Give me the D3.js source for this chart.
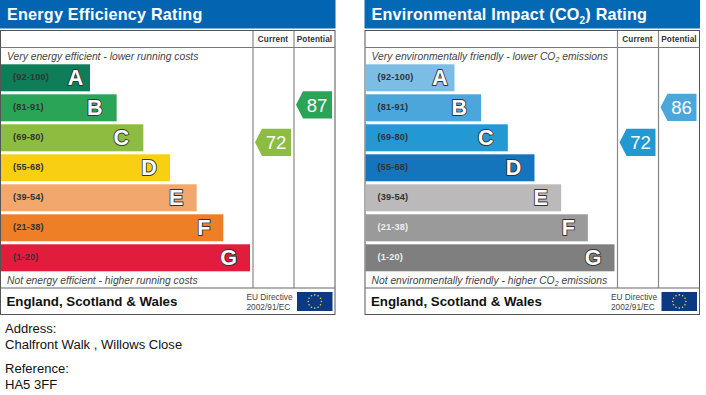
<!DOCTYPE html>
<html><head><meta charset="utf-8">
<style>html,body{margin:0;padding:0;background:#fff}svg{display:block}text{font-family:"Liberation Sans",Arial,sans-serif}</style>
<script src="https://cdn.jsdelivr.net/npm/d3@7"></script></head><body>
<svg id="c" width="706" height="395"></svg>
<script>
const bands = ["A","B","C","D","E","F","G"];
const ranges = ["(92-100)","(81-91)","(69-80)","(55-68)","(39-54)","(21-38)","(1-20)"];
const barSteps = [1,2,3,4,5,6,7];
const energyColors = ["#0f7d58","#2aa457","#8cbd40","#f9cf14","#f2a86c","#ee7f27","#e21c3c"];
const co2Colors = ["#7cbde6","#4aa6db","#2399d3","#1575bc","#bbb9b9","#9b9a9a","#7f7f7f"];
const energyRatings = {current:72, potential:87};
const co2Ratings = {current:72, potential:86};
const footerRegion = "England, Scotland & Wales";
const directive = ["EU Directive","2002/91/EC"];
const addressLines = [["Address:",333],["Chalfront Walk , Willows Close",349],["Reference:",373],["HA5 3FF",389]];

const svg = d3.select("#c");
const x = d3.scaleLinear().domain([1,7]).range([90,250]);
const y = d3.scaleBand().domain(bands).range([64.3,271.3]).paddingInner(0.1).paddingOuter(0);
const ratingY = d3.scaleLinear().domain([72,87]).range([142.3,104.8]);
const letterInset = {A:14.5,B:22,C:22,D:21,E:20.5,F:19.5,G:21.5};

function panel(dx, o){
  const g = svg.append("g").attr("transform",`translate(${dx},0)`);
  g.append("rect").attr("x",0).attr("y",0).attr("width",335.5).attr("height",28.5).attr("fill",o.head);
  const t = g.append("text").attr("x",7).attr("y",19.5).attr("fill","#fff").attr("font-weight","bold").attr("font-size",16.2).attr("letter-spacing",0.2);
  o.title.forEach(s=>{
    t.append("tspan").text(s[0]).attr("font-size",s[1]?10:null).attr("dy",s[1]?4:(s[2]?-4:null));
  });
  const line=(x1,y1,x2,y2,c,w)=>g.append("line").attr("x1",x1).attr("y1",y1).attr("x2",x2).attr("y2",y2).attr("stroke",c).attr("stroke-width",w);
  g.append("rect").attr("x",0.5).attr("y",30.5).attr("width",334.5).attr("height",284).attr("fill","#fff").attr("stroke","#555").attr("stroke-width",1);
  line(0.5,47.5,335,47.5,"#777",1);
  line(253,31,253,288,"#888",1.2);
  line(294,31,294,288,"#888",1.2);
  line(0.5,288,335,288,"#666",1.2);
  [["Current",273],["Potential",314.5]].forEach(d=>g.append("text").text(d[0]).attr("x",d[1]).attr("y",42).attr("text-anchor","middle").attr("font-size",8.2).attr("font-weight","bold").attr("fill","#333").attr("letter-spacing",0.1));
  const italic=(s,yy)=>{
    const tx=g.append("text").attr("x",7).attr("y",yy).attr("font-size",10.3).attr("font-style","italic").attr("fill","#444");
    s.forEach(p=>tx.append("tspan").text(p[0]).attr("font-size",p[1]?7:null).attr("dy",p[1]?2:(p[2]?-2:null)));
  };
  italic(o.top,60); italic(o.bottom,283.5);
  const rows=g.selectAll("g.r").data(bands).join("g").attr("class","r");
  rows.append("rect").attr("x",1).attr("y",d=>y(d)).attr("width",(d,i)=>x(barSteps[i])-1).attr("height",y.bandwidth()).attr("fill",(d,i)=>o.colors[i]);
  rows.append("text").text((d,i)=>ranges[i]).attr("x",13).attr("y",d=>y(d)+y.bandwidth()/2+2.6).attr("font-size",9.2).attr("font-weight","bold").attr("letter-spacing",0.15)
    .attr("fill",(d,i)=>o.light.includes(d)?"#eee":"#333");
  rows.append("text").text(d=>d).attr("x",(d,i)=>x(barSteps[i])-letterInset[d]).attr("y",d=>y(d)+y.bandwidth()/2+7.4).attr("text-anchor","middle").attr("font-size",21.5).attr("font-weight","bold")
    .attr("fill","#fff").attr("stroke","#333").attr("stroke-width",1.8).attr("paint-order","stroke").attr("stroke-linejoin","round");
  [["current",291,o.cc],["potential",332,o.pc]].forEach(a=>{
    const v=o.ratings[a[0]], yc=ratingY(v), R=a[1], h=13.6;
    g.append("path").attr("d",d3.line()([[R,yc-h],[R,yc+h],[R-29,yc+h],[R-36,yc],[R-29,yc-h]])+"Z").attr("fill",a[2]);
    g.append("text").text(v).attr("x",R-15).attr("y",yc+6.7).attr("text-anchor","middle").attr("font-size",18.6).attr("fill","#fff");
  });
  g.append("text").text(footerRegion).attr("x",6.5).attr("y",306).attr("font-size",13.3).attr("font-weight","bold").attr("fill","#111");
  directive.forEach((s,i)=>g.append("text").text(s).attr("x",246.5).attr("y",[300,310][i]).attr("font-size",8.3).attr("fill","#444"));
  g.append("rect").attr("x",297).attr("y",292).attr("width",35.5).attr("height",19).attr("fill","#0b3a82");
  d3.range(12).forEach(i=>{
    const a=i*Math.PI/6;
    g.append("circle").attr("cx",314.8+6.6*Math.cos(a)).attr("cy",301.5+6.6*Math.sin(a)).attr("r",0.8).attr("fill","#f3d13a");
  });
}
panel(0,{head:"#0365b1",title:[["Energy Efficiency Rating"]],colors:energyColors,light:[],ratings:energyRatings,cc:energyColors[2],pc:energyColors[1],
  top:[["Very energy efficient - lower running costs"]],bottom:[["Not energy efficient - higher running costs"]]});
panel(364.5,{head:"#0369b5",title:[["Environmental Impact (CO"],["2",1],[") Rating",0,1]],colors:co2Colors,light:["F","G"],ratings:co2Ratings,cc:co2Colors[2],pc:co2Colors[1],
  top:[["Very environmentally friendly - lower CO"],["2",1],[" emissions",0,1]],bottom:[["Not environmentally friendly - higher CO"],["2",1],[" emissions",0,1]]});
svg.selectAll("text.addr").data(addressLines).join("text").attr("class","addr").text(d=>d[0]).attr("x",5).attr("y",d=>d[1]).attr("font-size",13.05).attr("fill","#111");
</script></body></html>
